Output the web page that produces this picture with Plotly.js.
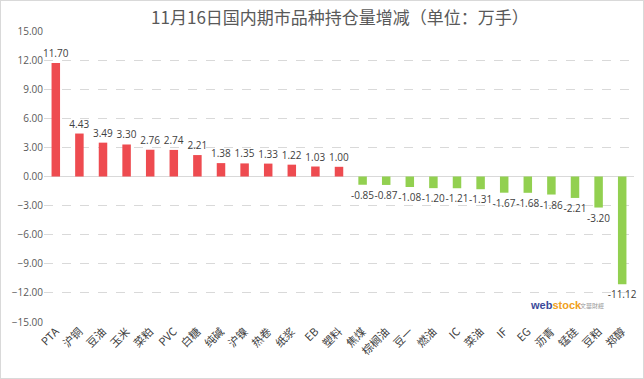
<!DOCTYPE html>
<html><head><meta charset="utf-8">
<script src="https://cdn.plot.ly/plotly-3.0.1.min.js"></script>
<style>
html,body{margin:0;padding:0;background:#fff;}
#wrap{width:644px;height:379px;box-sizing:border-box;border:1px solid #d9d9d9;}
#chart{width:642px;height:377px;}
</style></head>
<body><div id="wrap"><div id="chart"></div></div>
<script>
const categories = ["PTA","沪铜","豆油","玉米","菜粕","PVC","白糖","纯碱","沪镍","热卷","纸浆","EB","塑料","焦煤","棕榈油","豆一","燃油","IC","菜油","IF","EG","沥青","锰硅","豆粕","郑醇"];
const values = [11.70,4.43,3.49,3.30,2.76,2.74,2.21,1.38,1.35,1.33,1.22,1.03,1.00,-0.85,-0.87,-1.08,-1.20,-1.21,-1.31,-1.67,-1.68,-1.86,-2.21,-3.20,-11.12];
const yTicks = [15,12,9,6,3,0,-3,-6,-9,-12,-15];

const colors = values.map(v => v >= 0 ? "#EE4B50" : "#92D050");
const font = "Open Sans, Noto Sans CJK SC, sans-serif";

const trace = {
  type: "bar",
  x: categories,
  y: values,
  marker: {color: colors},
  texttemplate: "%{y:.2f}",
  textposition: "outside",
  constraintext: "none",
  cliponaxis: false,
  textfont: {family: font, size: 10, color: "#404040"},
  hoverinfo: "x+y"
};

const layout = {
  width: 642, height: 377,
  margin: {l: 43, r: 9, t: 30, b: 56},
  paper_bgcolor: "#fff", plot_bgcolor: "#fff",
  bargap: 0.64,
  showlegend: false,
  title: {text: "11月16日国内期市品种持仓量增减（单位：万手）", font: {family: "Noto Sans CJK SC, sans-serif", size: 17, color: "#595959"}, x: 0.528, xref: "container", y: 0.955, yref: "container", yanchor: "middle"},
  xaxis: {tickangle: -45, tickfont: {family: "Noto Sans CJK SC, sans-serif", size: 11, color: "#404040"}, showgrid: false, showline: false, ticks: "", automargin: false},
  yaxis: {range: [-15, 15], tickvals: yTicks, tickformat: ".2f", tickfont: {family: font, size: 10, color: "#595959"},
          gridcolor: "#d9d9d9", griddash: "dash", gridwidth: 1, zeroline: true, zerolinecolor: "#d9d9d9", zerolinewidth: 1, showline: false, ticks: "", automargin: false},
  annotations: [
    {xref: "paper", yref: "paper", x: 0.82, y: 0.06, xanchor: "left", yanchor: "middle", showarrow: false,
     text: "<b><span style='color:#3b4a9a'>web</span><span style='color:#f0a020'>stock</span></b>", font: {family: "Liberation Sans, sans-serif", size: 11}},
    {xref: "paper", yref: "paper", x: 0.905, y: 0.055, xanchor: "left", yanchor: "middle", showarrow: false,
     text: "文華財經", font: {family: "Noto Sans CJK TC, sans-serif", size: 6, color: "#999"}}
  ]
};

Plotly.newPlot("chart", [trace], layout, {displayModeBar: false, staticPlot: true});
</script></body></html>
